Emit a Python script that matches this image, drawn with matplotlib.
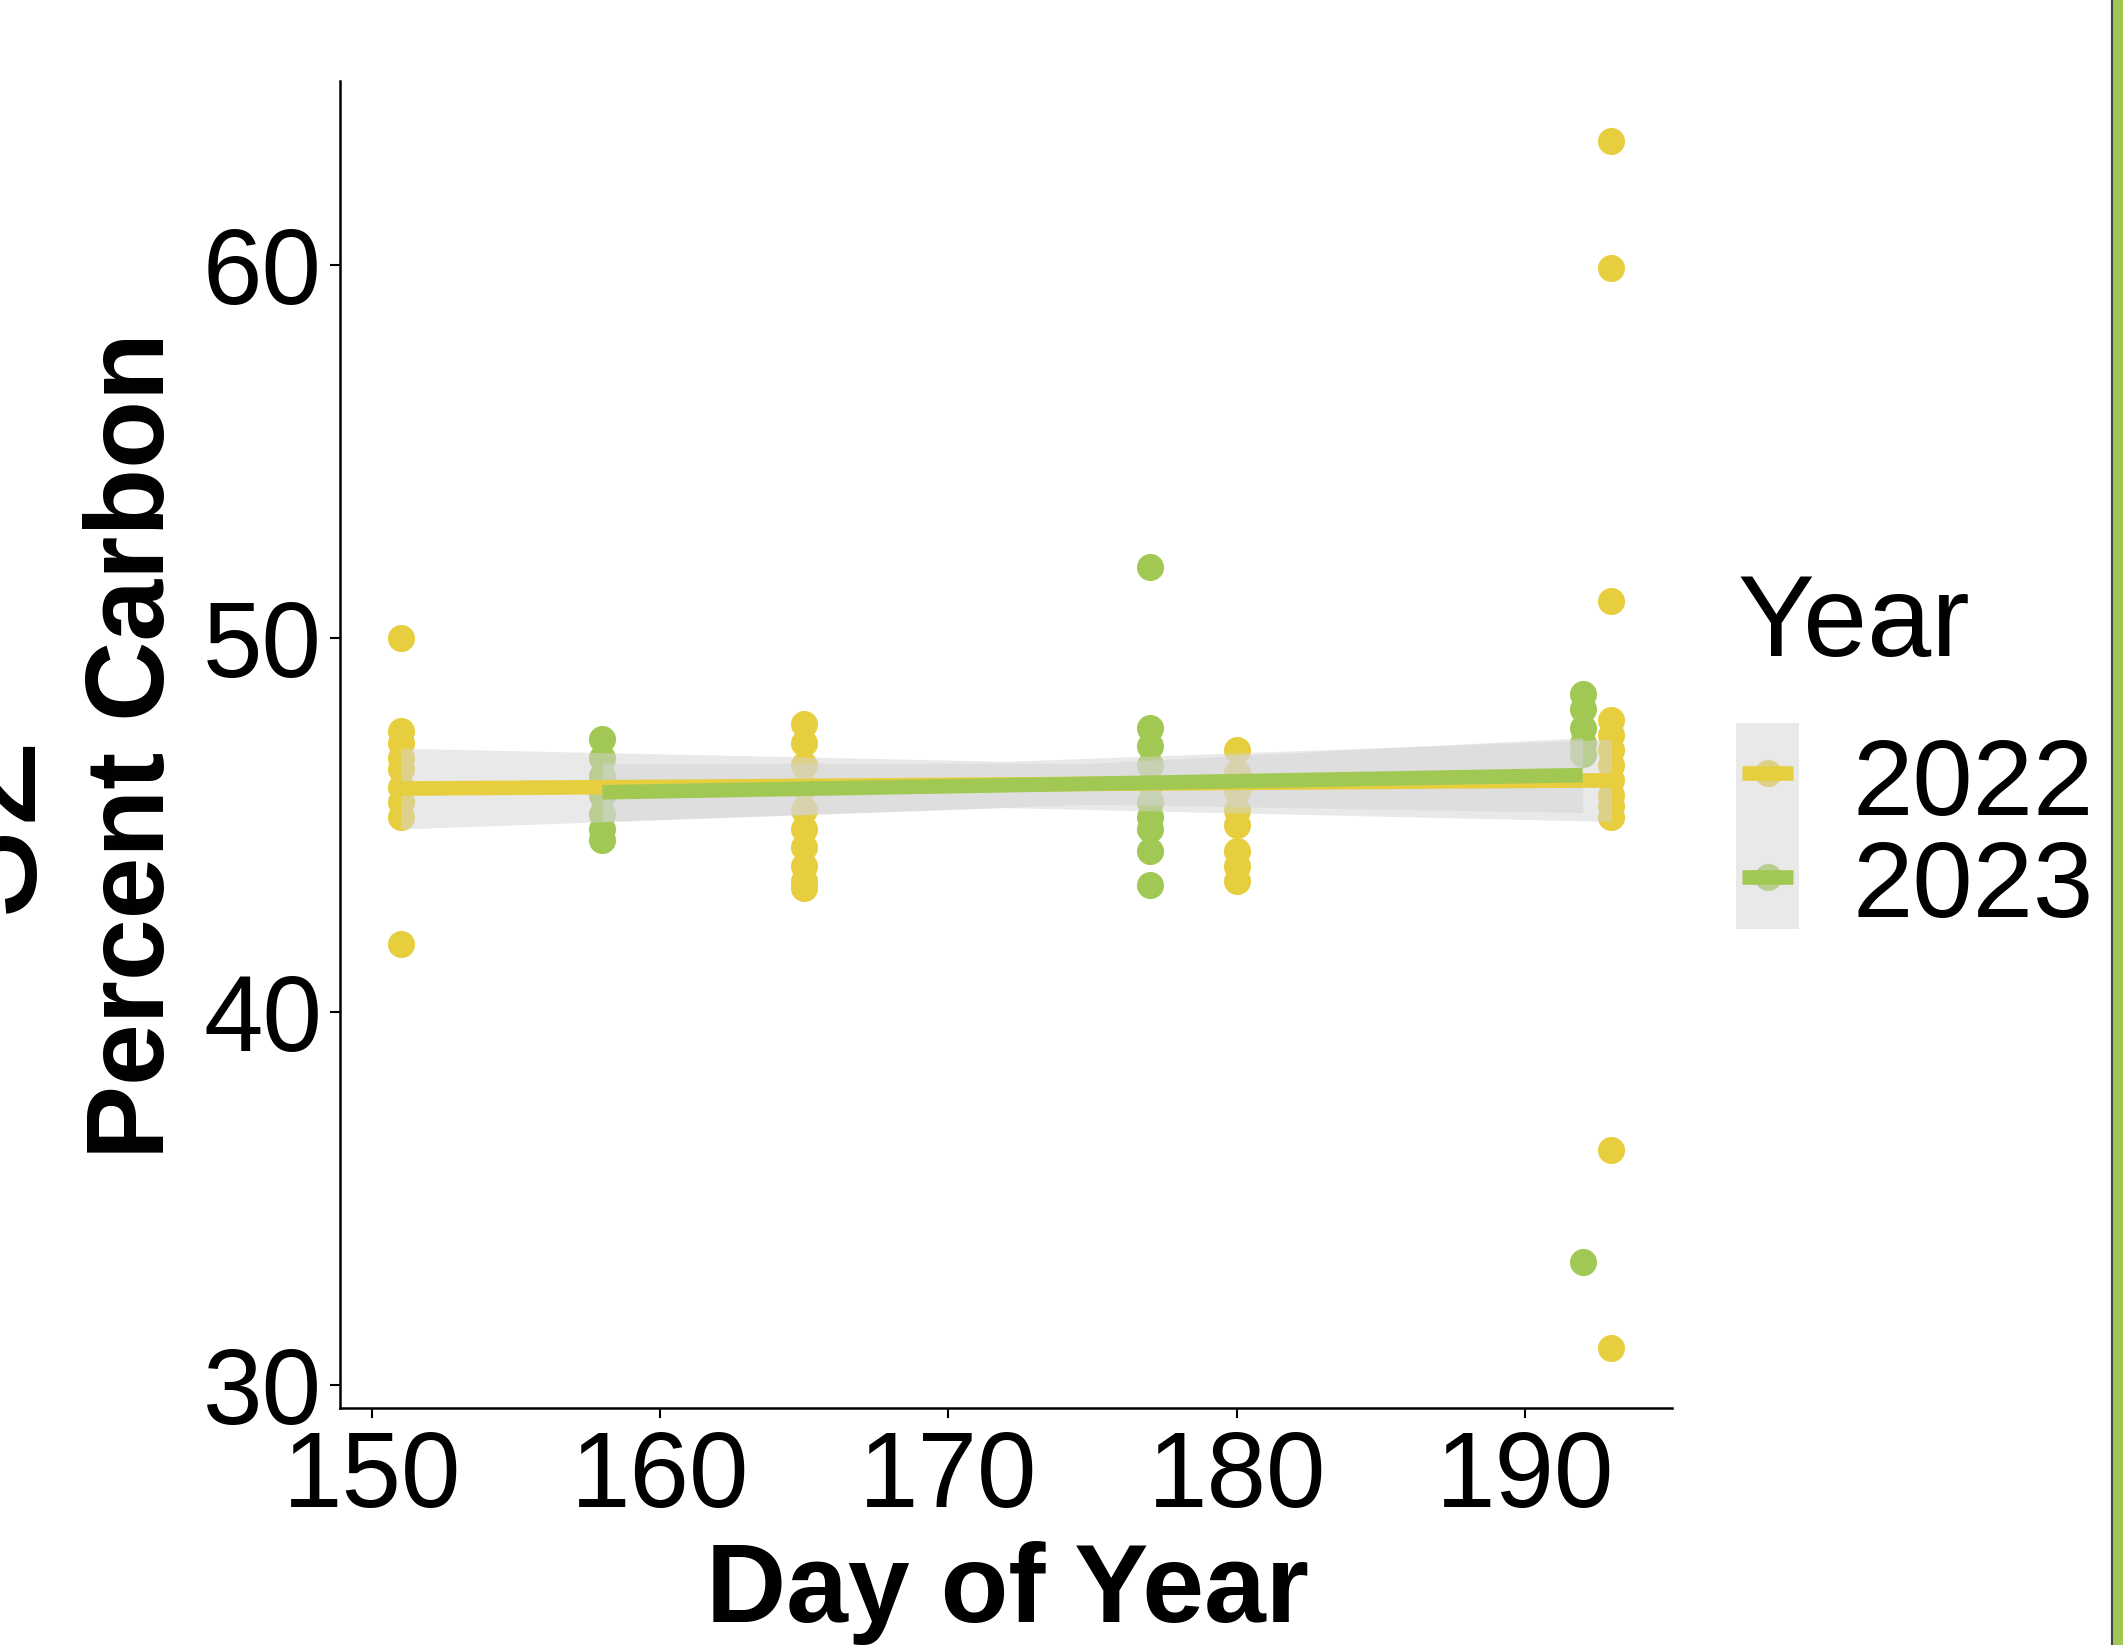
import numpy as np
import matplotlib
matplotlib.use("Agg")
import matplotlib.pyplot as plt
from matplotlib.patches import Rectangle
from matplotlib.lines import Line2D

plt.rcParams['font.family'] = ['Liberation Sans', 'DejaVu Sans']

# percent carbon per sampling day
pc_2022_d151 = [50.0, 47.5, 47.2, 46.8, 46.5, 46.0, 45.6, 45.2, 41.8]
pc_2022_d165 = [47.7, 47.2, 46.6, 46.0, 45.4, 44.9, 44.4, 43.9, 43.5, 43.3]
pc_2022_d180 = [47.0, 46.4, 45.9, 45.4, 45.0, 44.3, 43.9, 43.5]
pc_2022_d193 = [63.3, 59.9, 51.0, 47.8, 47.4, 47.0, 46.6, 46.2, 45.8, 45.5, 45.2, 36.3, 31.0]
pc_2023_d158 = [47.3, 46.8, 46.3, 45.8, 45.3, 44.9, 44.6]
pc_2023_d177 = [51.9, 47.6, 47.1, 46.6, 46.1, 45.6, 45.2, 44.9, 44.3, 43.4]
pc_2023_d192 = [48.5, 48.1, 47.6, 47.2, 46.9, 33.3]

days_2022 = [151, 165, 180, 193]
days_2023 = [158, 177, 192]

# linear fit + 95% band
fit_day_2022 = [151, 172, 193]
fit_2022 = [45.97, 46.08, 46.19]
lo_2022 = [44.89, 45.46, 45.09]
hi_2022 = [47.05, 46.70, 47.29]

fit_day_2023 = [158, 175, 192]
fit_2023 = [45.87, 46.10, 46.33]
lo_2023 = [45.09, 45.55, 45.33]
hi_2023 = [46.65, 46.65, 47.33]

years = ['2022', '2023']
col_2022 = '#E7CE3E'
col_2023 = '#A0C853'
band_col = '#d4d4d4'

x22 = np.concatenate([[d] * len(v) for d, v in zip(days_2022, [pc_2022_d151, pc_2022_d165, pc_2022_d180, pc_2022_d193])])
y22 = np.concatenate([pc_2022_d151, pc_2022_d165, pc_2022_d180, pc_2022_d193])
x23 = np.concatenate([[d] * len(v) for d, v in zip(days_2023, [pc_2023_d158, pc_2023_d177, pc_2023_d192])])
y23 = np.concatenate([pc_2023_d158, pc_2023_d177, pc_2023_d192])

W, H = 2123, 1645
fig = plt.figure(figsize=(W / 100, H / 100), dpi=100)
ax = fig.add_axes([340 / W, 1 - 1408 / H, (1672 - 340) / W, (1408 - 81) / H])

ax.scatter(x22, y22, s=380, color=col_2022, linewidths=0, zorder=1)
ax.scatter(x23, y23, s=380, color=col_2023, linewidths=0, zorder=1)

ax.fill_between(fit_day_2022, lo_2022, hi_2022, color=band_col, alpha=0.5, linewidth=0, zorder=2)
ax.fill_between(fit_day_2023, lo_2023, hi_2023, color=band_col, alpha=0.5, linewidth=0, zorder=2)
ax.plot(fit_day_2022, fit_2022, color=col_2022, lw=10.5, solid_capstyle='butt', zorder=3)
ax.plot(fit_day_2023, fit_2023, color=col_2023, lw=10.5, solid_capstyle='butt', zorder=3)

allx = np.concatenate([x22, x23])
ally = np.concatenate([y22, y23])
dx = 0.05 * (allx.max() - allx.min())
dy = 0.05 * (ally.max() - ally.min())
ax.set_xlim(allx.min() - dx, allx.max() + dx)
ax.set_ylim(ally.min() - dy, ally.max() + dy)

ax.set_xticks([150, 160, 170, 180, 190])
ax.set_yticks([30, 40, 50, 60])
for s in ['top', 'right']:
    ax.spines[s].set_visible(False)
for s in ['left', 'bottom']:
    ax.spines[s].set_linewidth(1.8)
ax.tick_params(direction='out', length=7, width=1.5, labelsize=77, colors='black')
ax.tick_params(axis='y', pad=6)
ax.tick_params(axis='x', pad=8)

fig.text(135 / W, 1 - 746 / H, 'Percent Carbon', rotation=90, ha='center', va='center',
         fontsize=80, fontweight='bold')
fig.text(1007 / W, 1 - 1622 / H, 'Day of Year', ha='center', va='baseline',
         fontsize=80, fontweight='bold')

# legend
fig.text(1737 / W, 1 - 656 / H, 'Year', ha='left', va='baseline', fontsize=83)
key_cols = [col_2022, col_2023]
key_y = [773, 877]
lab_y = [815, 917]
for i in range(2):
    fig.add_artist(Line2D([1767.5 / W], [1 - key_y[i] / H], marker='o', markersize=19.5,
                          color=key_cols[i], markeredgewidth=0, linestyle='none', zorder=1))
    fig.add_artist(Rectangle((1736 / W, 1 - (723 + 103 * (i + 1)) / H), 63 / W, 103 / H,
                             facecolor=band_col, alpha=0.5, linewidth=0, zorder=2))
    fig.add_artist(Line2D([1742 / W, 1793 / W], [1 - key_y[i] / H] * 2, color=key_cols[i],
                          lw=10.5, solid_capstyle='butt', zorder=3))
    fig.text(1852 / W, 1 - lab_y[i] / H, years[i], ha='left', va='baseline', fontsize=78)

# cut-off neighbour text and the frame on the right edge of the screenshot
fig.text(30 / W, 1 - 822 / H, '32', rotation=90, rotation_mode='anchor', ha='center',
         va='baseline', fontsize=118)
fig.add_artist(Rectangle((2113 / W, 0), 10 / W, 1, facecolor='#A2C656', linewidth=0))
fig.add_artist(Line2D([2111.5 / W] * 2, [0, 1], color='#444444', lw=1.5))

fig.savefig('out.png', dpi=100)
